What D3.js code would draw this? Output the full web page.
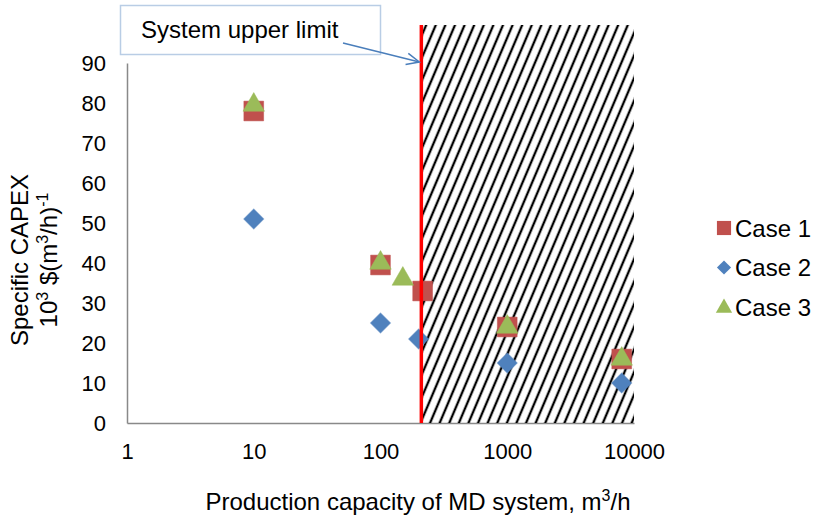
<!DOCTYPE html>
<html>
<head>
<meta charset="utf-8">
<script src="https://cdn.jsdelivr.net/npm/d3@7"></script>
<style>
  html, body { margin: 0; padding: 0; background: #fff; }
  svg { display: block; font-family: "Liberation Sans", Arial, sans-serif; }
</style>
</head>
<body>
<svg id="chart" width="817" height="521"></svg>
<script>
// Production capacity (m3/h) and specific CAPEX (10^3 $ per m3/h) for each case
const case1X = [10, 100, 215, 1000, 8000];
const case1Y = [78, 39.5, 33, 24, 16];
const case2X = [10, 100, 200, 1000, 8000];
const case2Y = [51, 25, 21, 15, 10];
const case3X = [10, 100, 150, 1000, 8000];
const case3Y = [80, 40.5, 36.5, 24.5, 16.5];

const seriesNames = ["Case 1", "Case 2", "Case 3"];
const xTicks = [1, 10, 100, 1000, 10000];
const yTicks = [0, 10, 20, 30, 40, 50, 60, 70, 80, 90];

// Upper limit of the system capacity and the extent of the excluded region
const upperLimit = 210;
const regionEnd = 10000;
const regionTop = 99.5;
const annotationText = "System upper limit";

const svg = d3.select("#chart");
const x = d3.scaleLog().domain([1, 10000]).range([127, 634]);
const y = d3.scaleLinear().domain([0, 90]).range([423, 63]);

const colors = { "Case 1": "#C0504D", "Case 2": "#4F81BD", "Case 3": "#9BBB59" };
const shapes = { "Case 1": d3.symbolSquare, "Case 2": d3.symbolSquare, "Case 3": d3.symbolTriangle };
const rotations = { "Case 1": 0, "Case 2": 45, "Case 3": 0 };

const series = [
  { name: "Case 1", xs: case1X, ys: case1Y, size: 390 },
  { name: "Case 2", xs: case2X, ys: case2Y, size: 200 },
  { name: "Case 3", xs: case3X, ys: case3Y, size: 200 }
];

// Hatch pattern for the region beyond the upper limit
const defs = svg.append("defs");
const pat = defs.append("pattern")
  .attr("id", "hatch")
  .attr("patternUnits", "userSpaceOnUse")
  .attr("width", 9.6).attr("height", 10)
  .attr("patternTransform", "skewX(-23)");
pat.append("line")
  .attr("x1", 4.8).attr("y1", -1).attr("x2", 4.8).attr("y2", 11)
  .attr("stroke", "#000").attr("stroke-width", 2.5);

// Axes (no tick marks, grey domain lines)
const xAxis = svg.append("g")
  .attr("transform", `translate(0,${y(0)})`)
  .call(d3.axisBottom(x).tickValues(xTicks).tickFormat(d3.format("d")).tickSize(0).tickPadding(20));
const yAxis = svg.append("g")
  .attr("transform", `translate(${x(1)},0)`)
  .call(d3.axisLeft(y).tickValues(yTicks).tickSize(0).tickPadding(21));
[xAxis, yAxis].forEach(g => {
  g.select(".domain").attr("stroke", "#898989").attr("stroke-width", 1.5);
  g.selectAll("text").attr("font-size", 22).attr("fill", "#000")
    .attr("font-family", "'Liberation Sans', Arial, sans-serif");
});
xAxis.selectAll("text").attr("dy", "0.71em");

// Excluded region
svg.append("rect")
  .attr("x", x(upperLimit)).attr("y", y(regionTop))
  .attr("width", x(regionEnd) - x(upperLimit))
  .attr("height", y(0) - y(regionTop))
  .attr("fill", "url(#hatch)");

// Data markers
series.forEach(s => {
  const sym = d3.symbol().type(shapes[s.name]).size(s.size);
  svg.append("g").selectAll("path")
    .data(s.xs.map((v, i) => [v, s.ys[i]]))
    .join("path")
    .attr("d", sym)
    .attr("transform", d => {
      const dy = s.name === "Case 3" ? 2 : 0;
      return `translate(${x(d[0])},${y(d[1]) + dy}) rotate(${rotations[s.name]})`;
    })
    .attr("fill", colors[s.name])
    .attr("stroke", colors[s.name])
    .attr("stroke-opacity", 0.5)
    .attr("stroke-width", 1);
});

// Upper limit line
svg.append("line")
  .attr("x1", x(upperLimit)).attr("x2", x(upperLimit))
  .attr("y1", y(regionTop)).attr("y2", y(0))
  .attr("stroke", "#FF0000").attr("stroke-width", 3.5);

// Annotation box with arrow
svg.append("rect")
  .attr("x", 120.5).attr("y", 5.5).attr("width", 260).attr("height", 49)
  .attr("fill", "#fff").attr("stroke", "#B9CDE5").attr("stroke-width", 1.5);
svg.append("text")
  .attr("x", 141).attr("y", 38).attr("font-size", 24).text(annotationText);

const ax1 = 343, ay1 = 43, ax2 = x(upperLimit) - 2, ay2 = y(90) - 1;
svg.append("line")
  .attr("x1", ax1).attr("y1", ay1).attr("x2", ax2).attr("y2", ay2)
  .attr("stroke", "#4A7EBB").attr("stroke-width", 1.5);
const ang = Math.atan2(ay2 - ay1, ax2 - ax1);
const headLen = 14, headAng = 0.42;
svg.append("path")
  .attr("d", `M${ax2 - headLen * Math.cos(ang - headAng)},${ay2 - headLen * Math.sin(ang - headAng)}` +
             `L${ax2},${ay2}` +
             `L${ax2 - headLen * Math.cos(ang + headAng)},${ay2 - headLen * Math.sin(ang + headAng)}`)
  .attr("fill", "none").attr("stroke", "#4A7EBB").attr("stroke-width", 1.5);

// Axis titles
const xTitle = svg.append("text")
  .attr("x", 418).attr("y", 510).attr("text-anchor", "middle").attr("font-size", 24);
xTitle.append("tspan").text("Production capacity of MD system, m");
xTitle.append("tspan").attr("font-size", 16).attr("dy", -9).text("3");
xTitle.append("tspan").attr("dy", 9).text("/h");

const yTitle = svg.append("g").attr("transform", "translate(0,260) rotate(-90)");
yTitle.append("text").attr("x", 0).attr("y", 28).attr("text-anchor", "middle")
  .attr("font-size", 24).text("Specific CAPEX");
const yt2 = yTitle.append("text").attr("x", 0).attr("y", 57).attr("text-anchor", "middle")
  .attr("font-size", 24);
yt2.append("tspan").text("10");
yt2.append("tspan").attr("font-size", 16).attr("dy", -9).text("3");
yt2.append("tspan").attr("dy", 9).text(" $(m");
yt2.append("tspan").attr("font-size", 16).attr("dy", -9).text("3");
yt2.append("tspan").attr("dy", 9).text("/h)");
yt2.append("tspan").attr("font-size", 16).attr("dy", -9).text("-1");

// Legend
const legend = svg.append("g");
const legendSizes = { "Case 1": 200, "Case 2": 100, "Case 3": 115 };
seriesNames.forEach((name, i) => {
  const cy = 228 + i * 39.5;
  legend.append("path")
    .attr("d", d3.symbol().type(shapes[name]).size(legendSizes[name]))
    .attr("transform", `translate(724,${cy + (name === "Case 3" ? 1 : 0)}) rotate(${rotations[name]})`)
    .attr("fill", colors[name]);
  legend.append("text")
    .attr("x", 735).attr("y", cy + 8.5).attr("font-size", 24).text(name);
});
</script>
</body>
</html>
